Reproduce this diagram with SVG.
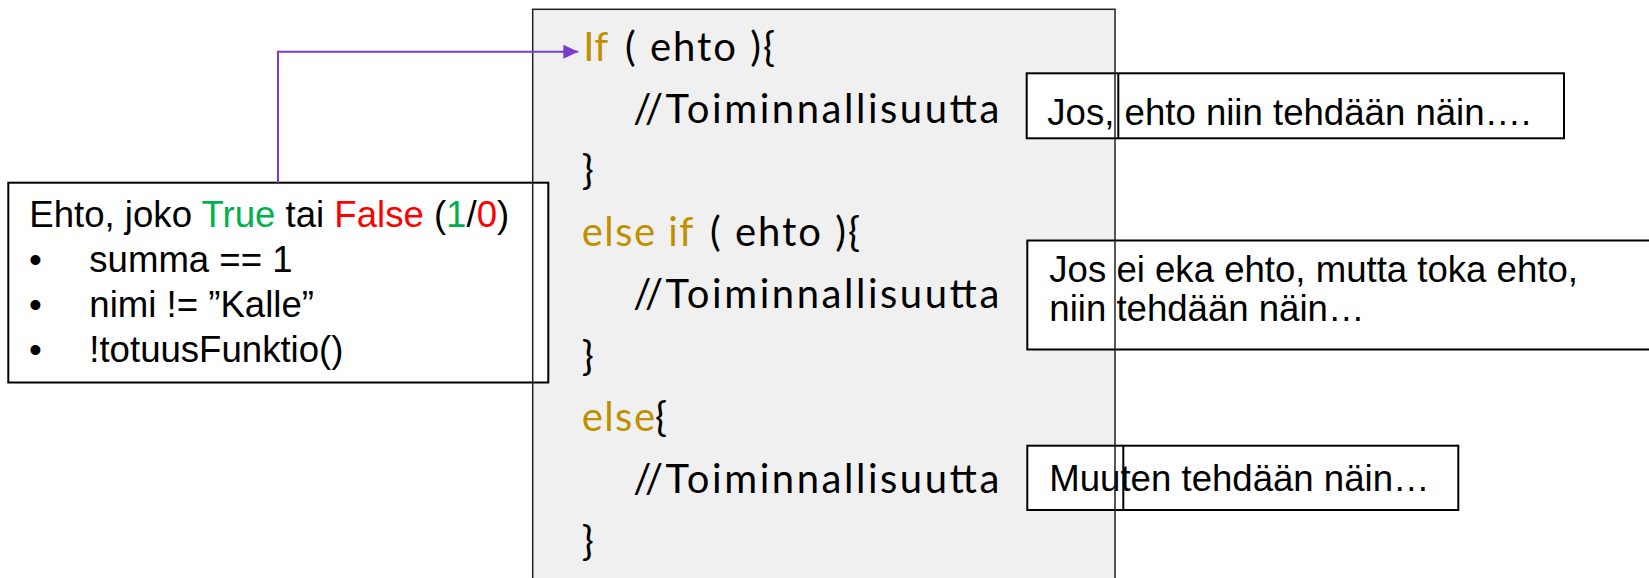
<svg xmlns="http://www.w3.org/2000/svg" width="1649" height="578" viewBox="0 0 1649 578">
<defs>
<style>
.box{fill:#ffffff;stroke:#000000;stroke-width:2}
.t{font-family:"Liberation Sans",Arial,sans-serif;font-size:36.6px;fill:#000000}
.code{font-family:Lato,"Open Sans",sans-serif;font-size:40px;fill:#000000}
.kw{fill:#BF9000}
.green{fill:#00B050}
.red{fill:#FF0000}
.conn{fill:none;stroke:#7B3CCC;stroke-width:2}
</style>
<marker id="arrow" markerUnits="userSpaceOnUse" markerWidth="16" markerHeight="16" viewBox="0 0 16 16" refX="15" refY="8" orient="auto">
<path d="M0,1 L15,8 L0,15 Z" fill="#7B3CCC"/>
</marker>
</defs>
<rect width="1649" height="578" fill="#ffffff"/>

<g id="code-panel">
<rect x="532.7" y="9.3" width="582.3" height="580" fill="#F0F0F0"/>
<text class="code kw" x="583.3" y="61" textLength="25" lengthAdjust="spacing">If</text>
<text class="code" x="625" y="61" textLength="150" lengthAdjust="spacing">( ehto ){</text>
<text class="code" x="633.3" y="122.7" textLength="366" lengthAdjust="spacing">//Toiminnallisuutta</text>
<text class="code" x="581.7" y="184.4">}</text>
<text class="code kw" x="581.7" y="246.1" textLength="111.6" lengthAdjust="spacing">else if</text>
<text class="code" x="710" y="246.1" textLength="150" lengthAdjust="spacing">( ehto ){</text>
<text class="code" x="633.3" y="307.8" textLength="366" lengthAdjust="spacing">//Toiminnallisuutta</text>
<text class="code" x="581.7" y="369.5">}</text>
<text class="code kw" x="581.7" y="431.2" textLength="73.3" lengthAdjust="spacing">else</text>
<text class="code" x="655" y="431.2">{</text>
<text class="code" x="633.3" y="492.9" textLength="366" lengthAdjust="spacing">//Toiminnallisuutta</text>
<text class="code" x="581.7" y="554.6">}</text>
</g>

<g id="condition-box">
<rect class="box" x="8.3" y="182.7" width="540" height="199.8"/>
<text class="t" x="29.3" y="227.3">Ehto, joko <tspan class="green">True</tspan> tai <tspan class="red">False</tspan> (<tspan class="green">1</tspan>/<tspan class="red">0</tspan>)</text>
<text class="t" x="29" y="271.7">•</text>
<text class="t" x="89.3" y="271.7">summa == 1</text>
<text class="t" x="29" y="316.7">•</text>
<text class="t" x="89.3" y="316.7">nimi != ”Kalle”</text>
<text class="t" x="29" y="361.7">•</text>
<text class="t" x="89.3" y="361.7">!totuusFunktio()</text>
</g>

<g id="note-if">
<rect class="box" x="1026.7" y="73.3" width="537.3" height="65"/>
<line x1="1118.3" y1="73.3" x2="1118.3" y2="138.3" stroke="#000" stroke-width="2"/>
<text class="t" x="1047.3" y="124.5">Jos, ehto niin tehdään näin….</text>
</g>

<g id="note-elseif">
<rect class="box" x="1027.3" y="240.5" width="640" height="109"/>
<text class="t" x="1049.3" y="282.3">Jos ei eka ehto, mutta toka ehto,</text>
<text class="t" x="1049.3" y="321">niin tehdään näin…</text>
</g>

<g id="note-else">
<rect class="box" x="1027.3" y="445.7" width="431" height="64.3"/>
<line x1="1123.3" y1="445.7" x2="1123.3" y2="510" stroke="#000" stroke-width="2"/>
<text class="t" x="1049.3" y="491">Muuten tehdään näin…</text>
</g>

<g id="code-panel-border">
<rect x="532.7" y="9.3" width="582.3" height="580" fill="none" stroke="#222222" stroke-width="1.5"/>
</g>

<g id="connectors">
<path class="conn" d="M278,182.7 V51.7 H578.3" marker-end="url(#arrow)"/>
</g>
</svg>
